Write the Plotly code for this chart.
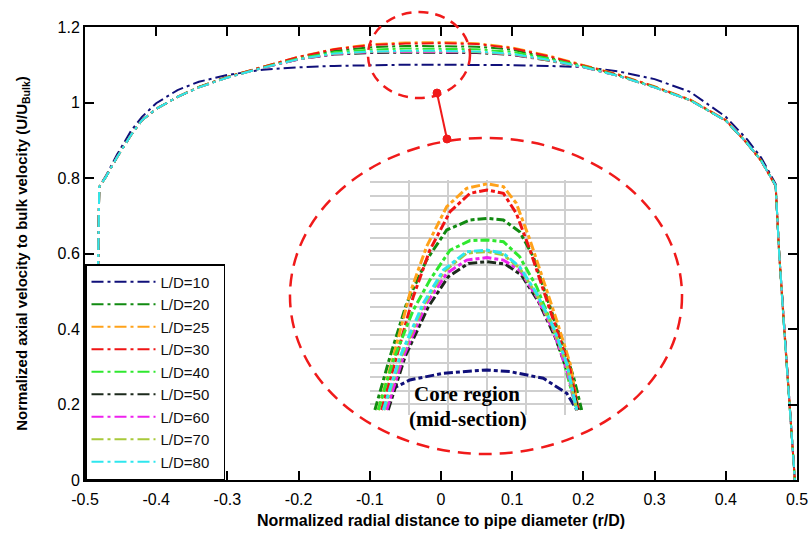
import plotly.graph_objects as go

# ---------------- data ----------------
series_names = ["L/D=10", "L/D=20", "L/D=25", "L/D=30", "L/D=40",
                "L/D=50", "L/D=60", "L/D=70", "L/D=80"]
series_colors = ["#10107a", "#118a11", "#ffa21a", "#f01414", "#2fe82f",
                 "#1c2a1c", "#ee22ee", "#a8c93a", "#2ee6ee"]

main_r = [-0.486, -0.480, -0.47, -0.455, -0.435, -0.42, -0.40, -0.37, -0.34, -0.30,
          -0.25, -0.20, -0.15, -0.10, -0.05, 0.00, 0.05, 0.10, 0.15, 0.20,
          0.25, 0.30, 0.35, 0.40, 0.43, 0.45, 0.47, 0.475, 0.482, 0.489, 0.497]

ld10 = [0, 0.776, 0.808, 0.862, 0.926, 0.962, 0.998, 1.033, 1.055, 1.073, 1.087, 1.093, 1.097, 1.099, 1.100, 1.100,
        1.100, 1.099, 1.097, 1.094, 1.082, 1.062, 1.028, 0.962, 0.902, 0.853, 0.784, 0.60, 0.40, 0.20, 0]
ld20 = [0, 0.776, 0.805, 0.855, 0.915, 0.953, 0.983, 1.015, 1.041, 1.068, 1.094, 1.119, 1.137, 1.146, 1.150, 1.150,
        1.148, 1.140, 1.120, 1.098, 1.072, 1.041, 1.006, 0.952, 0.892, 0.845, 0.780, 0.60, 0.40, 0.20, 0]
ld25 = [0, 0.776, 0.806, 0.855, 0.915, 0.953, 0.983, 1.015, 1.041, 1.068, 1.095, 1.121, 1.142, 1.154, 1.159, 1.160,
        1.157, 1.146, 1.125, 1.100, 1.074, 1.043, 1.008, 0.954, 0.892, 0.845, 0.779, 0.60, 0.40, 0.20, 0]
ld30 = [0, 0.776, 0.806, 0.855, 0.915, 0.953, 0.983, 1.015, 1.041, 1.068, 1.095, 1.121, 1.141, 1.152, 1.156, 1.157,
        1.155, 1.144, 1.123, 1.099, 1.073, 1.042, 1.007, 0.953, 0.891, 0.844, 0.778, 0.60, 0.40, 0.20, 0]
ld40 = [0, 0.776, 0.805, 0.855, 0.915, 0.953, 0.983, 1.015, 1.041, 1.067, 1.093, 1.117, 1.133, 1.140, 1.143, 1.143,
        1.141, 1.134, 1.117, 1.096, 1.071, 1.041, 1.006, 0.952, 0.892, 0.845, 0.780, 0.60, 0.40, 0.20, 0]
ld50 = [0, 0.776, 0.805, 0.855, 0.915, 0.953, 0.983, 1.015, 1.040, 1.066, 1.092, 1.114, 1.127, 1.131, 1.132, 1.132,
        1.131, 1.126, 1.111, 1.093, 1.070, 1.040, 1.006, 0.952, 0.892, 0.845, 0.780, 0.60, 0.40, 0.20, 0]
ld60 = [0, 0.776, 0.805, 0.855, 0.915, 0.953, 0.983, 1.015, 1.040, 1.066, 1.092, 1.114, 1.128, 1.133, 1.134, 1.134,
        1.133, 1.127, 1.112, 1.093, 1.070, 1.040, 1.006, 0.952, 0.892, 0.845, 0.780, 0.60, 0.40, 0.20, 0]
ld70 = [0, 0.776, 0.805, 0.855, 0.915, 0.953, 0.983, 1.015, 1.040, 1.066, 1.092, 1.115, 1.129, 1.134, 1.136, 1.136,
        1.134, 1.128, 1.112, 1.094, 1.070, 1.040, 1.006, 0.952, 0.892, 0.845, 0.780, 0.60, 0.40, 0.20, 0]
ld80 = [0, 0.776, 0.805, 0.855, 0.915, 0.953, 0.983, 1.015, 1.040, 1.066, 1.092, 1.115, 1.130, 1.135, 1.137, 1.137,
        1.135, 1.129, 1.113, 1.094, 1.070, 1.040, 1.006, 0.952, 0.892, 0.845, 0.780, 0.60, 0.40, 0.20, 0]
main_values = [ld10, ld20, ld25, ld30, ld40, ld50, ld60, ld70, ld80]

# inset (core region, mid-section)
in10_r = [-0.0496, -0.0394, -0.0223, 0.0, 0.0118, 0.0288, 0.0408, 0.0459]
in10_u = [1.0852, 1.0888, 1.0912, 1.0924, 1.0918, 1.0894, 1.0840, 1.0780]
in20_r = [-0.0573, -0.0496, -0.0411, -0.0309, -0.0206, -0.0087, 0.0, 0.0084, 0.0167, 0.0237, 0.0305, 0.0373, 0.0442, 0.0484]
in20_u = [1.0780, 1.0971, 1.1163, 1.1319, 1.1427, 1.1463, 1.1469, 1.1463, 1.1421, 1.1331, 1.1187, 1.1043, 1.0900, 1.0780]
in25_r = [-0.0556, -0.0479, -0.0394, -0.0309, -0.0206, -0.0104, 0.0, 0.0084, 0.0150, 0.0220, 0.0288, 0.0356, 0.0425, 0.0467]
in25_u = [1.0780, 1.0971, 1.1199, 1.1367, 1.1511, 1.1577, 1.1593, 1.1583, 1.1523, 1.1391, 1.1247, 1.1103, 1.0947, 1.0780]
in30_r = [-0.0539, -0.0462, -0.0377, -0.0292, -0.0189, -0.0087, 0.0, 0.0084, 0.0150, 0.0220, 0.0288, 0.0356, 0.0425, 0.0467]
in30_u = [1.0780, 1.0971, 1.1187, 1.1355, 1.1493, 1.1559, 1.1571, 1.1559, 1.1487, 1.1355, 1.1211, 1.1067, 1.0924, 1.0780]
in40_r = [-0.0556, -0.0479, -0.0377, -0.0292, -0.0189, -0.0087, 0.0, 0.0084, 0.0167, 0.0254, 0.0322, 0.0390, 0.0459]
in40_u = [1.0780, 1.0959, 1.1139, 1.1247, 1.1355, 1.1389, 1.1391, 1.1385, 1.1331, 1.1223, 1.1103, 1.0959, 1.0780]
in50_r = [-0.0505, -0.0419, -0.0300, -0.0198, -0.0095, 0.0, 0.0092, 0.0176, 0.0263, 0.0348, 0.0416, 0.0467]
in50_u = [1.0780, 1.0971, 1.1151, 1.1259, 1.1307, 1.1313, 1.1305, 1.1265, 1.1170, 1.1043, 1.0912, 1.0780]
in60_r = [-0.0513, -0.0428, -0.0309, -0.0206, -0.0104, 0.0, 0.0084, 0.0167, 0.0254, 0.0339, 0.0408, 0.0459]
in60_u = [1.0780, 1.0971, 1.1163, 1.1271, 1.1319, 1.1328, 1.1319, 1.1283, 1.1187, 1.1067, 1.0924, 1.0780]
in70_r = [-0.0527, -0.0442, -0.0323, -0.0220, -0.0104, 0.0, 0.0084, 0.0167, 0.0254, 0.0339, 0.0408, 0.0459]
in70_u = [1.0780, 1.0966, 1.1158, 1.1278, 1.1344, 1.1350, 1.1338, 1.1290, 1.1194, 1.1074, 1.0942, 1.0780]
in80_r = [-0.0530, -0.0445, -0.0326, -0.0223, -0.0104, 0.0, 0.0084, 0.0167, 0.0254, 0.0339, 0.0408, 0.0459]
in80_u = [1.0780, 1.0971, 1.1163, 1.1283, 1.1349, 1.1355, 1.1343, 1.1295, 1.1199, 1.1079, 1.0947, 1.0780]
inset_r = [in10_r, in20_r, in25_r, in30_r, in40_r, in50_r, in60_r, in70_r, in80_r]
inset_u = [in10_u, in20_u, in25_u, in30_u, in40_u, in50_u, in60_u, in70_u, in80_u]

x_tick_vals = [-0.5, -0.4, -0.3, -0.2, -0.1, 0, 0.1, 0.2, 0.3, 0.4, 0.5]
x_tick_text = ["-0.5", "-0.4", "-0.3", "-0.2", "-0.1", "0", "0.1", "0.2", "0.3", "0.4", "0.5"]
y_tick_vals = [0, 0.2, 0.4, 0.6, 0.8, 1.0, 1.2]
y_tick_text = ["0", "0.2", "0.4", "0.6", "0.8", "1", "1.2"]

# ---------------- figure ----------------
fig = go.Figure()
main_dash = "12px,4px,3px,4px"
for name, col, vals in zip(series_names, series_colors, main_values):
    fig.add_trace(go.Scatter(x=main_r, y=vals, mode="lines", name=name + "\u00a0\u00a0",
                             line=dict(color=col, width=2, dash=main_dash)))

for name, col, rr, uu in zip(series_names, series_colors, inset_r, inset_u):
    fig.add_trace(go.Scatter(x=rr, y=uu, mode="lines", name=name, showlegend=False,
                             xaxis="x2", yaxis="y2",
                             line=dict(color=col, width=3, dash="9px,3px,4px,3px")))

RED = "#f01a1a"
shapes = [
    dict(type="circle", xref="paper", yref="paper", x0=0.3975, x1=0.5407, y0=0.843, y1=1.033,
         line=dict(color=RED, width=2.5, dash="10px,7px")),
    dict(type="circle", xref="paper", yref="paper", x0=0.2879, x1=0.8385, y0=0.0574, y1=0.755,
         line=dict(color=RED, width=2.5, dash="13px,8px")),
    dict(type="line", xref="paper", yref="paper", x0=0.4944, y0=0.8543, x1=0.5084, y1=0.7528,
         line=dict(color=RED, width=2)),
]
for (xa, ya) in [(0.4944, 0.8543), (0.5084, 0.7528)]:
    shapes.append(dict(type="circle", xref="paper", yref="paper", xsizemode="pixel", ysizemode="pixel",
                       xanchor=xa, yanchor=ya, x0=-4, x1=4, y0=-4, y1=4,
                       fillcolor=RED, line=dict(color=RED, width=1)))

annotations = [
    dict(text="<b>Core region</b>", xref="paper", yref="paper", x=0.537, y=0.160, showarrow=False,
         font=dict(family="Liberation Serif, Times New Roman, serif", size=21, color="black")),
    dict(text="<b>(mid-section)</b>", xref="paper", yref="paper", x=0.5385, y=0.104, showarrow=False,
         font=dict(family="Liberation Serif, Times New Roman, serif", size=21, color="black")),
]

axis_common = dict(showline=True, linecolor="black", linewidth=2, mirror="ticks",
                   ticks="inside", ticklen=9, tickwidth=2, tickcolor="black",
                   showgrid=False, zeroline=False, automargin=False,
                   tickfont=dict(family="Arial, Liberation Sans", size=16, color="black"))

fig.update_layout(
    width=811, height=534,
    margin=dict(l=85, r=14, t=27, b=54),
    paper_bgcolor="white", plot_bgcolor="white",
    xaxis=dict(range=[-0.5, 0.5], tickvals=x_tick_vals, ticktext=x_tick_text, ticklabelstandoff=4,
               title=dict(text="<b>Normalized radial distance to pipe diameter (r/D)</b>",
                          font=dict(family="Arial, Liberation Sans", size=16, color="black"), standoff=8),
               **axis_common),
    yaxis=dict(range=[0, 1.2], tickvals=y_tick_vals, ticktext=y_tick_text,
               title=dict(text="<b>Normalized axial velocity to bulk velocity (U/U<sub>Bulk</sub>)</b>",
                          font=dict(family="Arial, Liberation Sans", size=15, color="black"), standoff=26),
               **axis_common),
    xaxis2=dict(domain=[0.4003, 0.7121], anchor="y2", range=[-0.0598, 0.0537],
                tick0=0, dtick=0.02, showgrid=True, gridcolor="#cfcfcf", gridwidth=1.5,
                showticklabels=False, ticks="", zeroline=False, showline=False),
    yaxis2=dict(domain=[0.1435, 0.6623], anchor="x2", range=[1.0762, 1.1607],
                tick0=1.08, dtick=0.005, showgrid=True, gridcolor="#cfcfcf", gridwidth=1.5,
                showticklabels=False, ticks="", zeroline=False, showline=False),
    legend=dict(x=0, y=0, xanchor="left", yanchor="bottom", bgcolor="white",
                bordercolor="black", borderwidth=1.5, itemwidth=64,
                font=dict(family="Arial, Liberation Sans", size=15, color="#111111")),
    shapes=shapes, annotations=annotations,
    showlegend=True,
)

fig.write_html("out.html")
